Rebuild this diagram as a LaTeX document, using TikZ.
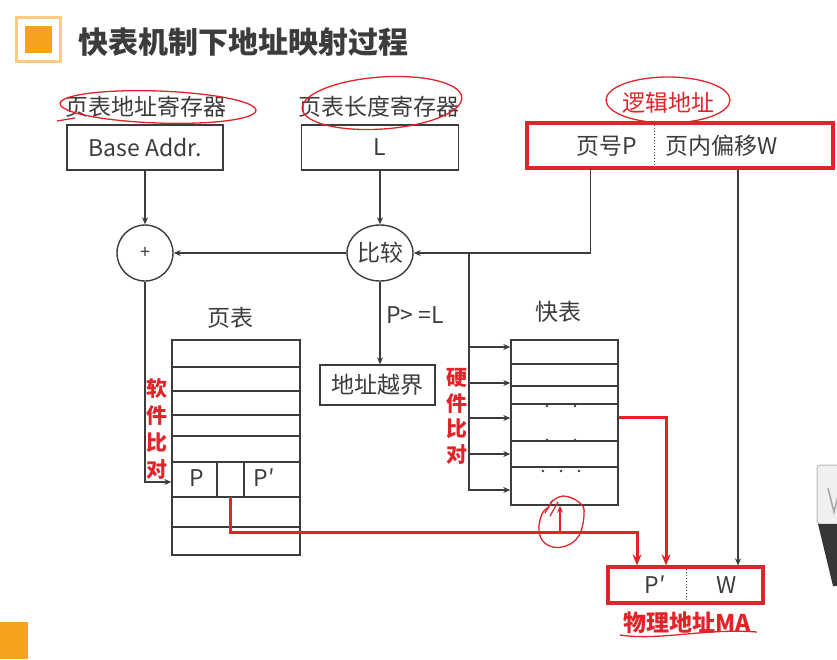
\documentclass[tikz,border=0pt]{standalone}
\usepackage{fontspec}
\setmainfont{Noto Sans CJK SC}
\usetikzlibrary{arrows.meta,shapes.geometric,calc}
\definecolor{ink}{HTML}{3C3C3C}
\definecolor{mark}{HTML}{E0242A}
\definecolor{amber}{HTML}{F7A21D}
\definecolor{amberlight}{HTML}{FBCB82}
\tikzset{
  line/.style={draw=ink, line width=1.4pt},
  flow/.style={line, -{Stealth[length=7pt,width=6pt]}},
  redflow/.style={draw=mark, line width=3pt, -{Stealth[length=11pt,width=9pt]}},
  txt/.style={text=ink, font=\fontsize{23}{26}\selectfont, inner sep=0pt},
  box/.style={draw=ink, line width=1.4pt, rectangle, inner sep=0pt, txt},
  redbox/.style={draw=mark, line width=3.2pt, rectangle, inner sep=0pt},
  redtxt/.style={text=mark, font=\bfseries\fontsize{21}{27}\selectfont, inner sep=0pt, align=center},
  note/.style={draw=mark, line width=1.3pt},
  dot/.style={fill=ink, circle, inner sep=0pt, minimum size=2.6pt},
}
\begin{document}
\begin{tikzpicture}[x=1pt,y=-1pt]
\useasboundingbox (0,0) rectangle (837,659);

% heading
\node[draw=amberlight, line width=3pt, minimum size=44pt, inner sep=0pt] (icon) at (38,39.5) {};
\node[fill=amber, minimum size=27pt, inner sep=0pt] (iconcore) at (38.5,39.5) {};
\node[anchor=west, text=ink, font=\bfseries\fontsize{30}{34}\selectfont, inner sep=0pt] (title) at (78,42) {快表机制下地址映射过程};
\fill[amber] (0,622) rectangle (28,659);

% registers
\node[txt] (ptrlbl) at (146,107) {页表地址寄存器};
\node[box, minimum width=156pt, minimum height=45pt] (base) at (145,147.5) {Base Addr.};
\node[txt] (lenlbl) at (379,107) {页表长度寄存器};
\node[box, minimum width=157pt, minimum height=45pt] (len) at (380,147.5) {L};

% logical address
\node[redbox, minimum width=306pt, minimum height=45pt] (laddr) at (680,145.5) {};
\node[minimum width=127pt, minimum height=45pt, inner sep=0pt] (pfield) at (590.5,145.5) {};
\draw[ink, dotted, line width=1pt] (654,125) -- (654,166);
\node[txt] (ptext) at (607,146) {页号P};
\node[txt] (wtext) at (722,146) {页内偏移W};
\node[txt, text=mark] (lalbl) at (668,103) {逻辑地址};

% adder and comparator
\node[draw=ink, line width=1.4pt, circle, minimum size=56pt, inner sep=0pt, text=ink, font=\fontsize{18}{18}\selectfont] (plus) at (145,253) {+};
\node[draw=ink, line width=1.4pt, ellipse, minimum width=66pt, minimum height=56pt, inner sep=0pt, txt] (cmp) at (380,253) {比较};

\draw[flow] (base) -- (plus);
\draw[flow] (len.south) -- (cmp.north);
\draw[flow] (pfield.south) |- (cmp.east);
\draw[flow] (cmp.west) -- (plus.east);

% bound check
\node[txt] (cond) at (415,315) {P> =L};
\node[box, minimum width=115pt, minimum height=40pt] (oob) at (377.5,385) {地址越界};
\draw[flow] (cmp.south) -- (cmp.south |- oob.north);

% page table
\node[txt] (ptabtitle) at (230,318) {页表};
\node[box, minimum width=128pt, minimum height=215pt] (ptab) at (236,447.5) {};
\foreach \y in {367,391,415,436,462,497,527}
  \draw[line] (ptab.west |- 0,\y) -- (ptab.east |- 0,\y);
\draw[line] (217,462) -- (217,497);
\draw[line] (244,462) -- (244,497);
\node[txt] (pcell) at (197,478) {P};
\node[txt] (ppcell) at (264,478) {P′};
\coordinate (mid) at (230.5,497);
\draw[flow] (plus.south) |- (ptab.west |- 0,482);
\node[redtxt] (soft) at (157,429) {软\\件\\比\\对};

% TLB
\node[txt] (tlbtitle) at (558,312) {快表};
\node[box, minimum width=107pt, minimum height=165pt] (tlb) at (564.5,422.5) {};
\foreach \y in {364,386,404,441,467}
  \draw[line] (tlb.west |- 0,\y) -- (tlb.east |- 0,\y);
\foreach \p in {(547,406),(575,406),(547,440),(575,440),(543,471),(561,471),(579,471)}
  \node[dot] at \p {};
\coordinate (tap) at (469,253);
\draw[flow] (tap) |- (tlb.west |- 0,490);
\foreach \y in {347,383,418,454}
  \draw[flow] (tap |- 0,\y) -- (tlb.west |- 0,\y);
\node[redtxt, font=\bfseries\fontsize{21}{25.7}\selectfont] (hard) at (457,416.5) {硬\\件\\比\\对};

% physical address
\node[redbox, minimum width=155pt, minimum height=36pt] (pa) at (685.5,585) {};
\draw[ink, dotted, line width=1pt] (686,569) -- (686,601);
\node[txt] (patext) at (655,585) {P′};
\node[txt] (watext) at (727,585) {W};
\node[text=mark, font=\bfseries\fontsize{23}{25}\selectfont, inner sep=0pt] (palbl) at (687,623) {物理地址MA};

% address paths
\draw[flow] (738,0 |- laddr.south) -- (738,0 |- pa.north);
\draw[redflow] (tlb.east |- 0,417) -| (666,0 |- pa.north);
\draw[redflow] (mid) |- (637,532) -- (637,0 |- pa.north);
\draw[draw=mark, line width=1.8pt, -{Stealth[length=7pt,width=6pt]}] (560,532) -- (560,0 |- tlb.south);

% hand annotations
\draw[note, rotate around={-2:(158,107)}] (158,107) ellipse [x radius=98, y radius=16];
\draw[note] (57,121) -- (75,118);
\draw[note, rotate around={4:(382,103)}] (382,103) ellipse [x radius=80, y radius=26];
\draw[note] (668,100) ellipse [x radius=62, y radius=23];
\draw[note] plot[smooth, tension=0.7] coordinates {(550,503) (563,496) (580,503) (584,515) (578,537) (562,547) (546,544) (539,531) (542,514) (549,507)};
\draw[note] (545,513) -- (553,500);
\draw[note] (550,516) -- (558,502);
\draw[note] (620,635) .. controls (660,641) and (705,628) .. (757,632);

% device at right edge
\filldraw[fill=gray!12, draw=gray!55, line width=1pt, rounded corners=3pt] (817,465) rectangle (845,524);
\draw[gray!70, line width=1.5pt] (828,488) -- (834,512) -- (840,488);
\fill[ink!90!black] (818,524) -- (837,524) -- (837,586) -- (833,586) -- cycle;
\end{tikzpicture}
\end{document}
